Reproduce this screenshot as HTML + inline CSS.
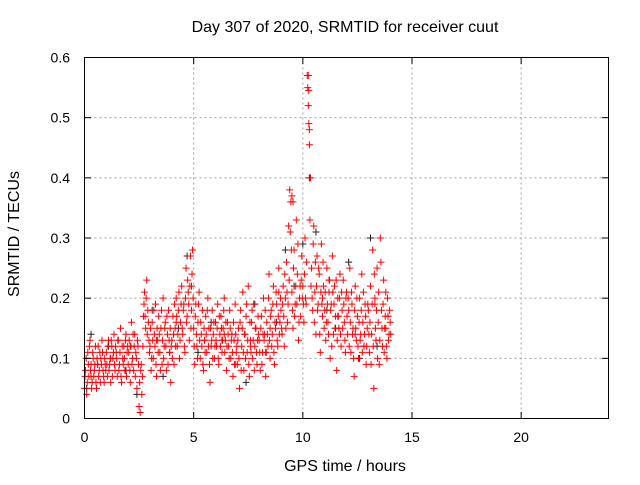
<!DOCTYPE html>
<html><head><meta charset="utf-8"><style>
body{margin:0;background:#fff;}
svg text{font-family:"Liberation Sans",sans-serif;font-size:14px;fill:#000;}
svg text.big{font-size:16px;}
</style></head><body>
<svg id="chart" width="640" height="480" xmlns="http://www.w3.org/2000/svg">
<rect width="640" height="480" fill="#fff"/>
<g id="grid"></g>
<g id="marks"></g>
<rect x="84.5" y="57.5" width="524" height="361" fill="none" stroke="#000" stroke-width="1"/>
<g id="ticks"></g>
<text class="big" x="345" y="32" text-anchor="middle">Day 307 of 2020, SRMTID for receiver cuut</text>
<text class="big" x="345" y="471" text-anchor="middle">GPS time / hours</text>
<text class="big" x="19" y="234" text-anchor="middle" transform="rotate(-90 19 234)">SRMTID / TECUs</text>
</svg>
<script>
const xTicks=[0,5,10,15,20];
const yTicks=[0,0.1,0.2,0.3,0.4,0.5,0.6];
const yTickLabels=["0","0.1","0.2","0.3","0.4","0.5","0.6"];
const tStart=0, tStep=0.05, tStart2=0.025;
const redValues=[
.05,.08,.04,.11,.07,.13,.09,.06,.10,.08,.12,.05,.09,.07,.11,.10,.13,.08,.06,.09,
.11,.07,.13,.09,.06,.12,.10,.14,.08,.11,.07,.13,.09,.15,.06,.10,.12,.08,.14,.11,
.09,.13,.06,.16,.10,.08,.14,.11,.05,.12,.02,.01,.09,.07,.17,.21,.15,.23,.18,.13,
.12,.08,.16,.10,.14,.19,.07,.13,.17,.11,.15,.09,.20,.12,.16,.08,.14,.18,.11,.06,
.13,.17,.09,.15,.20,.12,.18,.10,.16,.22,.14,.19,.11,.25,.17,.21,.13,.27,.18,.28,
.15,.09,.19,.12,.16,.21,.10,.14,.18,.08,.13,.17,.11,.20,.15,.06,.12,.18,.14,.10,
.16,.12,.19,.09,.14,.17,.11,.15,.20,.13,.08,.16,.12,.18,.10,.14,.07,.13,.19,.11,
.09,.15,.05,.18,.12,.21,.08,.14,.17,.11,.22,.07,.13,.16,.10,.19,.12,.15,.09,.17,
.13,.08,.17,.11,.20,.14,.07,.16,.12,.24,.10,.18,.14,.22,.09,.15,.19,.12,.25,.16,
.18,.14,.22,.12,.20,.26,.16,.32,.38,.36,.21,.15,.28,.19,.33,.24,.13,.20,.17,.27,
.22,.16,.30,.19,.57,.52,.48,.40,.25,.18,.32,.21,.14,.27,.19,.24,.11,.29,.17,.22,
.18,.13,.25,.16,.21,.10,.19,.27,.14,.22,.17,.08,.20,.15,.24,.12,.18,.23,.16,.11,
.21,.14,.18,.25,.11,.19,.15,.07,.22,.13,.17,.10,.20,.14,.24,.16,.12,.19,.09,.15,
.18,.11,.22,.14,.28,.05,.20,.13,.25,.16,.09,.30,.18,.12,.23,.15,.21,.10,.17,.14,
.16];
const redValues2=[
.07,.10,.06,.09,.12,.08,.05,.11,.07,.09,.06,.10,.12,.08,.06,.09,.11,.07,.10,.08,
.09,.12,.08,.10,.13,.07,.11,.09,.12,.10,.13,.08,.11,.07,.12,.09,.10,.13,.07,.12,
.11,.08,.12,.09,.14,.12,.07,.10,.13,.09,.06,.08,.04,.12,.19,.17,.20,.14,.16,.11,
.15,.10,.13,.18,.12,.09,.15,.11,.14,.08,.18,.13,.10,.15,.12,.17,.09,.13,.15,.12,
.10,.14,.19,.12,.17,.14,.21,.13,.19,.15,.18,.12,.20,.16,.23,.19,.22,.15,.24,.20,
.12,.17,.14,.10,.19,.13,.16,.12,.09,.15,.11,.14,.18,.12,.09,.15,.13,.10,.16,.12,
.13,.15,.10,.17,.12,.15,.13,.18,.11,.16,.12,.14,.10,.15,.13,.11,.16,.09,.14,.12,
.13,.10,.16,.08,.15,.11,.14,.10,.19,.13,.09,.16,.11,.18,.13,.08,.15,.11,.13,.14,
.11,.15,.09,.14,.13,.18,.11,.14,.20,.13,.17,.12,.19,.11,.16,.21,.13,.17,.14,.20,
.15,.19,.17,.24,.15,.21,.19,.23,.31,.28,.18,.25,.17,.22,.19,.29,.16,.22,.23,.20,
.19,.24,.20,.26,.55,.49,.33,.22,.20,.29,.16,.26,.22,.18,.25,.14,.21,.19,.26,.15,
.21,.16,.19,.14,.23,.18,.12,.21,.19,.15,.23,.13,.17,.20,.14,.21,.15,.19,.13,.20,
.17,.20,.12,.16,.21,.14,.10,.18,.15,.20,.12,.16,.13,.18,.11,.21,.14,.17,.12,.19,
.14,.16,.09,.19,.12,.24,.15,.18,.10,.21,.13,.26,.15,.19,.11,.17,.12,.20,.13,.18,
.14];
const extraRedTimes=[9.5,9.55,10.25,10.27,10.3,0.3,1.2,2.1,3.3,4.2,5.5,6.4,7.6,8.5,10.9,11.6,12.4,13.3,13.8,4.9,3.9,6.9,8.9,11.2,12.8];
const extraRedValues=[0.37,0.36,0.57,0.545,0.455,0.07,0.10,0.12,0.13,0.16,0.13,0.14,0.12,0.15,0.20,0.17,0.14,0.19,0.15,0.22,0.11,0.09,0.21,0.23,0.12];
const blackTimes=[0.1,0.3,0.6,1.1,1.9,2.4,3.1,3.6,4.3,4.7,5.2,5.8,6.3,6.9,7.4,7.8,8.3,8.8,9.2,9.6,10.0,10.3,10.6,11.1,11.5,12.1,12.6,13.1,13.4,13.9];
const blackValues=[0.05,0.14,0.09,0.12,0.08,0.04,0.18,0.07,0.15,0.27,0.11,0.16,0.13,0.09,0.06,0.19,0.11,0.16,0.28,0.22,0.29,0.40,0.31,0.18,0.15,0.26,0.10,0.30,0.12,0.17];
const X=t=>84.5+t*524/24;
const Y=v=>418.5-v*361/0.6;
const NS="http://www.w3.org/2000/svg";
const grid=document.getElementById('grid'),ticks=document.getElementById('ticks'),marks=document.getElementById('marks');
function mk(tag,attrs,parent){const e=document.createElementNS(NS,tag);for(const k in attrs)e.setAttribute(k,attrs[k]);parent.appendChild(e);return e;}
xTicks.forEach(t=>{
 const x=X(t);
 if(t>0){const g=mk('line',{x1:x,y1:57.5,x2:x,y2:418.5,stroke:'#a0a0a0','stroke-dasharray':'2,3'},grid);
 
 }
 mk('line',{x1:x,y1:418.5,x2:x,y2:412,stroke:'#000'},ticks);
 mk('line',{x1:x,y1:57.5,x2:x,y2:64,stroke:'#000'},ticks);
 const l=mk('text',{x:x,y:442,'text-anchor':'middle'},ticks);l.textContent=t;
 
 
});
yTicks.forEach((v,i)=>{
 const y=Y(v);
 if(v>0&&v<0.6){const g=mk('line',{x1:84.5,y1:y,x2:608.5,y2:y,stroke:'#a0a0a0','stroke-dasharray':'2,3'},grid);
 
 }
 mk('line',{x1:84.5,y1:y,x2:91,y2:y,stroke:'#000'},ticks);
 mk('line',{x1:608.5,y1:y,x2:602,y2:y,stroke:'#000'},ticks);
 const l=mk('text',{x:70,y:y+5,'text-anchor':'end'},ticks);l.textContent=yTickLabels[i];
 
 
});
function plus(t,v,color,name){
 const x=X(t),y=Y(v);
 const p=mk('path',{d:`M${x-3.5} ${y}H${x+3.5}M${x} ${y-3.5}V${y+3.5}`,stroke:color,'stroke-width':1,fill:'none'},marks);
 
 
}
blackTimes.forEach((t,i)=>plus(t,blackValues[i],'#222','black-point'));
redValues.forEach((v,i)=>plus(tStart+i*tStep,v,'#ff0000','red-point'));
redValues2.forEach((v,i)=>plus(tStart2+i*tStep,v,'#ff0000','red-point'));
extraRedTimes.forEach((t,i)=>plus(t,extraRedValues[i],'#ff0000','red-point'));
</script>
</body></html>
